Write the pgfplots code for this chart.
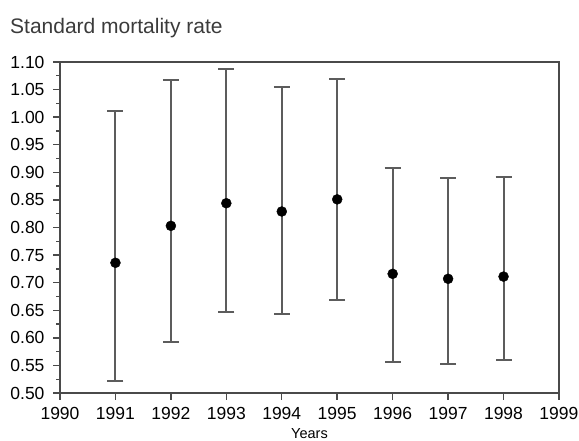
\documentclass[border=0pt]{standalone}
\usepackage{pgfplots}
\pgfplotsset{compat=1.18}
\usepackage{pgfplotstable}
\usepackage{fontspec}
\setmainfont{Liberation Sans}
\definecolor{axgray}{HTML}{4A4A4A}
\definecolor{bargray}{HTML}{5C5C5C}
\pgfplotstableread{
x y up dn
1991 0.736 0.275 0.214
1992 0.803 0.265 0.210
1993 0.844 0.243 0.198
1994 0.829 0.225 0.186
1995 0.851 0.219 0.183
1996 0.716 0.191 0.159
1997 0.707 0.182 0.154
1998 0.711 0.181 0.152
}\smr
\begin{document}
\begin{tikzpicture}
\begin{axis}[
  scale only axis,
  width=499pt, height=331pt,
  xmin=1990, xmax=1999, ymin=0.5, ymax=1.1,
  xtick={1990,...,1999},
  ytick={0.50,0.55,...,1.11},
  minor x tick num=1, minor y tick num=1,
  xtick pos=bottom, ytick pos=left,
  tick align=outside,
  major tick length=7pt, minor tick length=4pt,
  axis line style={axgray, line width=1.6pt},
  every tick/.style={axgray, line width=1.4pt},
  /pgf/number format/assume math mode=true,
  x tick label style={/pgf/number format/1000 sep={}},
  y tick label style={/pgf/number format/fixed, /pgf/number format/fixed zerofill, /pgf/number format/precision=2},
  xticklabel style={font=\fontsize{17.5}{17.5}\selectfont, yshift=-4pt},
  yticklabel style={font=\fontsize{17.5}{17.5}\selectfont, xshift=-5pt},
  xlabel={Years},
  xlabel style={at={(axis description cs:0.5,0)}, anchor=north, yshift=-32pt, font=\fontsize{14.5}{14.5}\selectfont},
  clip=false,
]
\addplot[only marks, mark=*, mark size=5pt, black,
  error bars/.cd, y dir=both, y explicit,
  error bar style={bargray, line width=2pt},
  error mark options={rotate=90, mark size=8pt, bargray, line width=2pt}]
  table[x=x, y=y, y error plus=up, y error minus=dn] {\smr};
\end{axis}
\node[anchor=base west, font=\fontsize{21}{21}\selectfont, text=axgray!80!black, inner sep=0pt] at (-50pt,359pt) {Standard mortality rate};
\pgfresetboundingbox
\path (-60pt,-48pt) rectangle (519pt,393pt);
\end{tikzpicture}
\end{document}
